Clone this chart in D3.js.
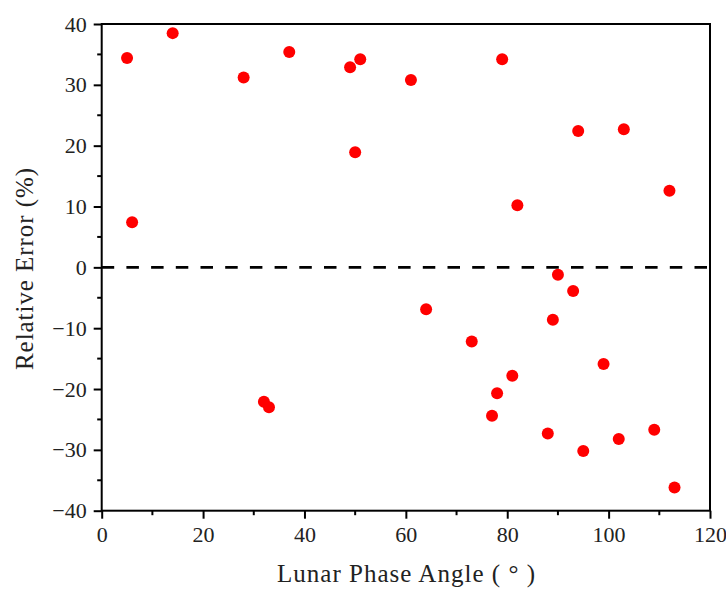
<!DOCTYPE html>
<html><head><meta charset="utf-8">
<script src="https://cdn.jsdelivr.net/npm/d3@7"></script>
<style>body{margin:0;background:#fff}svg{display:block}</style>
</head><body>
<script>
const phaseAngle = [5, 6, 14, 28, 32, 33, 37, 49, 50, 51, 61, 64, 73, 77, 78, 79, 81, 82, 88, 89, 90, 93, 94, 95, 99, 102, 103, 109, 112, 113];
const relError   = [34.4, 7.4, 38.5, 31.2, -22.1, -23.0, 35.4, 32.9, 18.9, 34.2, 30.8, -6.9, -12.2, -24.4, -20.7, 34.2, -17.8, 10.2, -27.3, -8.6, -1.2, -3.9, 22.4, -30.2, -15.9, -28.2, 22.7, -26.7, 12.6, -36.2];
const xTicks = [0, 20, 40, 60, 80, 100, 120];
const yTicks = [-40, -30, -20, -10, 0, 10, 20, 30, 40];
const xLabel = "Lunar Phase Angle ( ° )";
const yLabel = "Relative Error (%)";

const W = 726, H = 590;
const L = 101.7, R = 710, T = 24, B = 510.7;
const font = "'Liberation Serif', 'Times New Roman', serif";
const svg = d3.select("body").append("svg").attr("width", W).attr("height", H);
const x = d3.scaleLinear().domain([0, 120]).range([L, R]);
const y = d3.scaleLinear().domain([-40, 40]).range([B, T]);

const fmt = d => d < 0 ? "\u2212" + Math.abs(d) : String(d);

// minor ticks
const xMinor = d3.range(10, 120, 20);
const yMinor = d3.range(-35, 40, 10);
svg.append("g").selectAll("line").data(xMinor).join("line")
  .attr("x1", d => x(d)).attr("x2", d => x(d)).attr("y1", B).attr("y2", B + 4.5)
  .attr("stroke", "#000").attr("stroke-width", 2);
svg.append("g").selectAll("line").data(yMinor).join("line")
  .attr("y1", d => y(d)).attr("y2", d => y(d)).attr("x1", L).attr("x2", L - 4.5)
  .attr("stroke", "#000").attr("stroke-width", 2);

const xAxis = svg.append("g").attr("transform", `translate(0,${B})`)
  .call(d3.axisBottom(x).tickValues(xTicks).tickFormat(fmt).tickSize(8).tickPadding(8));
const yAxis = svg.append("g").attr("transform", `translate(${L},0)`)
  .call(d3.axisLeft(y).tickValues(yTicks).tickFormat(fmt).tickSize(8).tickPadding(7));
[xAxis, yAxis].forEach(g => {
  g.attr("font-family", null).attr("font-size", null);
  g.select(".domain").remove();
  g.selectAll(".tick line").attr("stroke", "#000").attr("stroke-width", 2);
  g.selectAll(".tick text").attr("fill", "#222").attr("font-family", font).attr("font-size", 22);
});

// frame
svg.append("rect").attr("x", L).attr("y", T).attr("width", R - L).attr("height", B - T)
  .attr("fill", "none").attr("stroke", "#000").attr("stroke-width", 2);

// zero line
svg.append("line").attr("x1", L).attr("x2", R).attr("y1", y(0)).attr("y2", y(0))
  .attr("stroke", "#000").attr("stroke-width", 2.6).attr("stroke-dasharray", "12.5,12.2");

// points
svg.append("g").selectAll("circle").data(phaseAngle).join("circle")
  .attr("cx", d => x(d)).attr("cy", (d, i) => y(relError[i])).attr("r", 6)
  .attr("fill", "#ff0000");

// labels
svg.append("text").attr("x", 277).attr("y", 582)
  .attr("textLength", 258).attr("lengthAdjust", "spacing")
  .attr("font-family", font).attr("font-size", 25).attr("fill", "#222").text(xLabel);
svg.append("text").attr("transform", `translate(33,370) rotate(-90)`)
  .attr("textLength", 202).attr("lengthAdjust", "spacing")
  .attr("font-family", font).attr("font-size", 25).attr("fill", "#222").text(yLabel);
</script>
</body></html>
